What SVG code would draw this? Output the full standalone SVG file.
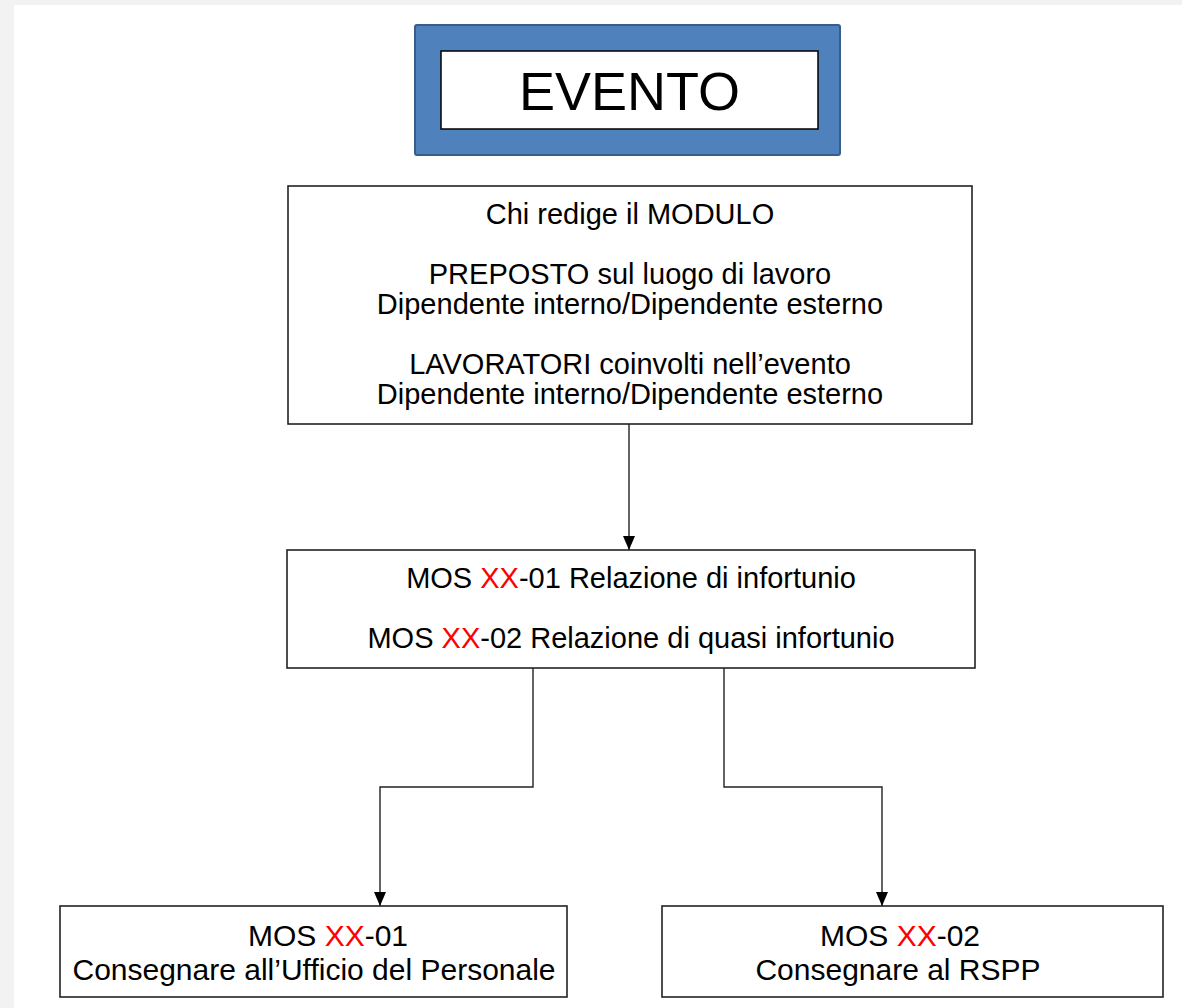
<svg xmlns="http://www.w3.org/2000/svg" width="1182" height="1008" viewBox="0 0 1182 1008">
  <style>
    .box { fill: #ffffff; stroke: #222222; stroke-width: 1.6; }
    .t { font-family: "Liberation Sans", Arial, sans-serif; font-size: 29px; fill: #000000; text-anchor: middle; }
    .b { font-size: 30px; }
    .red { fill: #ff0000; }
    .conn { fill: none; stroke: #222222; stroke-width: 1.4; }
  </style>
  <defs>
    <marker id="arr" viewBox="0 0 14 12" refX="14" refY="6" markerWidth="14" markerHeight="12" markerUnits="userSpaceOnUse" orient="auto">
      <path d="M0,0 L14,6 L0,12 Z" fill="#000000"/>
    </marker>
  </defs>
  <rect x="0" y="0" width="1182" height="1008" fill="#f2f2f2"/>
  <rect x="14" y="5" width="1168" height="1003" fill="#ffffff"/>

  <g id="evento">
    <rect x="415" y="25" width="425" height="130" rx="2" fill="#4f81bd" stroke="#385d8a" stroke-width="2"/>
    <rect x="441" y="51" width="377" height="78" fill="#ffffff" stroke="#000000" stroke-width="1.5"/>
    <text x="629.5" y="110" class="t" style="font-size:54px">EVENTO</text>
  </g>

  <g id="chi-redige">
    <rect class="box" x="288" y="186" width="684" height="238"/>
    <text class="t" x="630" y="224">Chi redige il MODULO</text>
    <text class="t" x="630" y="284">PREPOSTO sul luogo di lavoro</text>
    <text class="t" x="630" y="314">Dipendente interno/Dipendente esterno</text>
    <text class="t" x="630" y="374">LAVORATORI coinvolti nell’evento</text>
    <text class="t" x="630" y="404">Dipendente interno/Dipendente esterno</text>
  </g>

  <g id="mos-relazioni">
    <rect class="box" x="287" y="550" width="688" height="118"/>
    <text class="t" x="631" y="588">MOS <tspan class="red">XX</tspan>-01 Relazione di infortunio</text>
    <text class="t" x="631" y="648">MOS <tspan class="red">XX</tspan>-02 Relazione di quasi infortunio</text>
  </g>

  <g id="mos-01">
    <rect class="box" x="60" y="906" width="507" height="91"/>
    <text class="t b" x="328" y="946">MOS <tspan class="red">XX</tspan>-01</text>
    <text class="t b" x="314" y="980">Consegnare all’Ufficio del Personale</text>
  </g>

  <g id="mos-02">
    <rect class="box" x="662" y="906" width="501" height="91"/>
    <text class="t b" x="900" y="946">MOS <tspan class="red">XX</tspan>-02</text>
    <text class="t b" x="898" y="980">Consegnare al RSPP</text>
  </g>

  <g id="connectors">
    <path class="conn" d="M629,424 V550" stroke="#555555" stroke-width="1.2" marker-end="url(#arr)"/>
    <path class="conn" d="M533,668 V787 H380 V906" marker-end="url(#arr)"/>
    <path class="conn" d="M724,668 V787 H882 V906" marker-end="url(#arr)"/>
  </g>
</svg>
